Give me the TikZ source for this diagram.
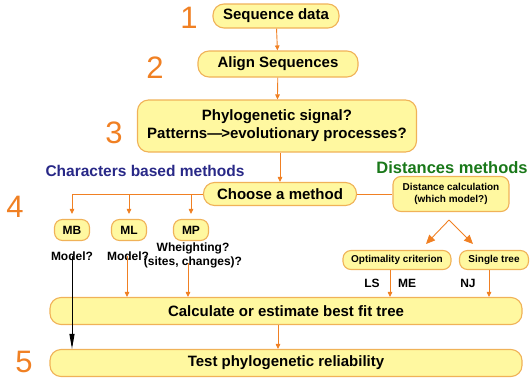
\documentclass[tikz,border=0pt]{standalone}
\usepackage{fontspec}
\setmainfont{Liberation Sans}
\usetikzlibrary{arrows.meta,positioning}
\definecolor{cream}{RGB}{255,248,160}
\definecolor{rim}{RGB}{240,178,88}
\definecolor{tang}{RGB}{240,128,35}
\definecolor{indigo}{RGB}{40,40,135}
\definecolor{forest}{RGB}{25,120,25}
\tikzset{
  >={Triangle[length=5pt,width=4.5pt]},
  stage/.style={draw=rim,fill=cream,line width=1.1pt,rounded corners=#1,
    inner sep=0pt,align=center,font=\fontsize{15}{18}\selectfont\bfseries},
  stage/.default=11pt,
  pill/.style={stage=8pt,font=\fontsize{10}{12}\selectfont\bfseries},
  flow/.style={->,draw=tang,line width=0.9pt},
  link/.style={draw=tang,line width=0.9pt},
  num/.style={text=tang,font=\fontsize{31}{31}\selectfont},
  note/.style={font=\fontsize{12}{14}\selectfont\bfseries,align=center,inner sep=0pt},
  family/.style={text=#1,font=\fontsize{15.5}{18}\selectfont\bfseries,inner sep=0pt},
}
\begin{document}
\begin{tikzpicture}[x=1pt,y=-1pt]
  \useasboundingbox (0,0) rectangle (530,378);
  % main column
  \node[stage,minimum width=126,minimum height=24] (seq) at (276,16) {Sequence data};
  \node[stage,minimum width=160,minimum height=26] (align) at (278,64) {Align Sequences};
  \node[stage,minimum width=279,minimum height=52] (phylo) at (277,126)
    {Phylogenetic signal?\\Patterns---\kern-1pt>evolutionary processes?};
  \node[stage,minimum width=153,minimum height=23] (choose) at (280,194) {Choose a method};
  \node[stage,minimum width=472,minimum height=27] (calc) at (286,311) {Calculate or estimate best fit tree};
  \node[stage,minimum width=472,minimum height=27] (test) at (286,363) {Test phylogenetic reliability};
  % step numbers
  \node[num] (n1) at (189,18) {1};
  \node[num] (n2) at (155,68) {2};
  \node[num] (n3) at (114,133) {3};
  \node[num] (n4) at (15,207) {4};
  \node[num] (n5) at (24,362) {5};
  % character based side
  \node[family=indigo] (chars) at (145,171) {Characters based methods};
  \node[pill,font=\fontsize{12}{14}\selectfont\bfseries,minimum width=35,minimum height=21] (mb) at (72,230) {MB};
  \node[pill,font=\fontsize{12}{14}\selectfont\bfseries,minimum width=35,minimum height=21] (ml) at (129,230) {ML};
  \node[pill,font=\fontsize{12}{14}\selectfont\bfseries,minimum width=35,minimum height=21] (mp) at (191,230) {MP};
  \node[note] (mbq) at (72,256) {Model?};
  \node[note] (mlq) at (128,256) {Model?};
  \node[note] (mpq) at (193,255) {Wheighting?\\(sites, changes)?};
  % distance side
  \node[family=forest,font=\fontsize{16.5}{18}\selectfont\bfseries] (dists) at (452,168) {Distances methods};
  \node[pill,minimum width=116,minimum height=35] (dist) at (451,194) {Distance calculation\\(which model?)};
  \node[pill,minimum width=108,minimum height=19] (opt) at (397,260) {Optimality criterion};
  \node[pill,minimum width=69,minimum height=19] (single) at (494,260) {Single tree};
  \node[note] (ls) at (372,283) {LS};
  \node[note] (me) at (407,283) {ME};
  \node[note] (nj) at (468,283) {NJ};
  \coordinate (fork) at (449,220);
  \coordinate (optin) at (426,244);
  \coordinate (singin) at (473,244);
  % connectors
  \draw[flow] (seq) -- (align);
  \draw[flow] (align) -- (phylo);
  \draw[flow] (choose.north |- phylo.south) -- (choose.north);
  \draw[link] (choose.west) -- (mb |- choose.west);
  \foreach \m in {mb,ml,mp}
    \draw[flow,shorten >=5pt] (\m |- choose.west) -- (\m.north);
  \draw[link] (choose.east) -- (dist.west);
  \draw[flow,-{Triangle[length=9pt,width=8pt]}] (fork) -- (optin);
  \draw[flow,-{Triangle[length=9pt,width=8pt]}] (fork) -- (singin);
  \draw[flow] ([xshift=-7]opt.south) -- ([xshift=-7]opt.south |- calc.north);
  \draw[flow] ([xshift=-5]single.south) -- ([xshift=-5]single.south |- calc.north);
  \draw[flow] ([yshift=5,xshift=-1]mlq.south) -- ([xshift=-1]mlq.south |- calc.north);
  \draw[flow] ([yshift=5,xshift=-5]mpq.south) -- ([xshift=-5]mpq.south |- calc.north);
  \draw[flow] ([xshift=-8]calc.south) -- ([xshift=-8]calc.south |- test.north);
  \draw[->,>={Triangle[length=15pt,width=5pt]},line width=0.9pt] ([yshift=5]mbq.south) -- (mbq.south |- test.north);
\end{tikzpicture}
\end{document}
